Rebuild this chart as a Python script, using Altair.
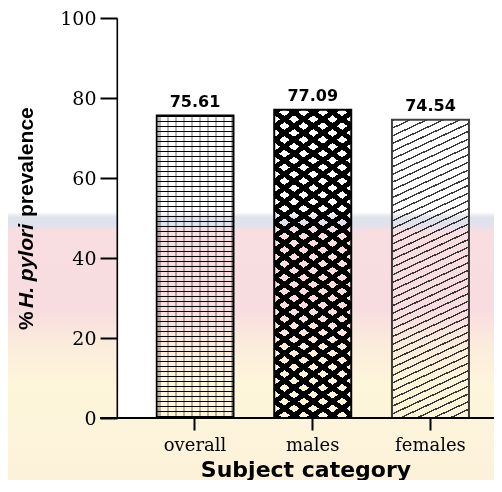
import math
import altair as alt
import pandas as pd

# ---- data ----
categories = ["overall", "males", "females"]
values = [75.61, 77.09, 74.54]
y_ticks = [0, 20, 40, 60, 80, 100]

df = pd.DataFrame({"category": categories, "value": values})
one = pd.DataFrame({"k": [0]})

# ---- layout ----
W, H = 377, 400
PAD_L, PAD_T, PAD_B = 109, 10, 62
P_IN, P_OUT, ALIGN = 0.346, 0.274, 0.612
step = W / (len(categories) - P_IN + 2 * P_OUT)
bw = step * (1 - P_IN)


def bar_h(cat):
    return values[categories.index(cat)] / 100 * H


def stripe_stops(L, period, dark, c_dark, c_light, phase=0.0):
    stops = []
    pos = -phase
    while pos < L:
        a = max(pos, 0) / L
        b = min(max(pos + dark, 0), L) / L
        c = min(pos + period, L) / L
        stops += [(c_dark, a), (c_dark, b), (c_light, b), (c_light, c)]
        pos += period
    return [alt.GradientStop(color=c, offset=round(o, 5)) for c, o in stops]


def diag_grad(w, h, ang_deg, period, dark, c_dark, c_light, up=True):
    a = math.radians(ang_deg)
    A, B = w * math.sin(a), h * math.cos(a)
    k = (A + B) / (A * A + B * B)
    L = A + B
    st = stripe_stops(L, period, dark, c_dark, c_light)
    if up:
        return alt.LinearGradient(gradient="linear", stops=st, x1=0, y1=0, x2=k * A, y2=k * B)
    return alt.LinearGradient(gradient="linear", stops=st, x1=0, y1=1, x2=k * A, y2=1 - k * B)


def horiz_grad(h, period, dark, c_dark, c_light):
    return alt.LinearGradient(gradient="linear", stops=stripe_stops(h, period, dark, c_dark, c_light),
                              x1=0, y1=0, x2=0, y2=1)


x_enc = alt.X(
    "category:N",
    sort=categories,
    scale=alt.Scale(paddingInner=P_IN, paddingOuter=P_OUT, align=ALIGN),
    axis=alt.Axis(
        title="Subject category",
        labelAngle=0,
        domain=False,
        ticks=True,
        tickSize=12,
        tickWidth=2,
        tickColor="black",
        labelFont="DejaVu Serif",
        labelFontSize=18,
        labelColor="black",
        labelPadding=6,
        titleFont="DejaVu Sans",
        titleFontSize=22,
        titleFontWeight="bold",
        titleColor="black",
        titleBaseline="alphabetic",
        titleY=58,
    ),
)
y_enc = alt.Y(
    "value:Q",
    scale=alt.Scale(domain=[0, 100], nice=False),
    axis=alt.Axis(
        title=None,
        values=y_ticks,
        grid=False,
        domainColor="black",
        domainWidth=2,
        tickSize=17,
        tickWidth=2,
        tickColor="black",
        labelFont="DejaVu Serif",
        labelFontSize=19,
        labelColor="black",
        labelPadding=4,
    ),
)

base = alt.Chart(df).encode(x=x_enc, y=y_enc)

# overall: brick-like courses
g_overall = horiz_grad(bar_h("overall"), 5.0, 1.6, "black", "white")
overall = base.transform_filter(alt.datum.category == "overall").mark_bar(
    fill=g_overall, stroke="black", strokeWidth=2
)
g_joint = alt.LinearGradient(
    gradient="linear",
    stops=stripe_stops(bw, 8.0, 1.5, "rgba(0,0,0,0.28)", "rgba(0,0,0,0)", phase=-3),
    x1=0, y1=0, x2=1, y2=0,
)
overall_j = base.transform_filter(alt.datum.category == "overall").mark_bar(fill=g_joint)

# males: crosshatch leaving white diamonds
hm = bar_h("males")
g_m1 = diag_grad(bw, hm, 35.6, 11.2, 5.0, "black", "white", up=True)
g_m2 = diag_grad(bw, hm, 35.6, 11.2, 5.0, "black", "rgba(255,255,255,0)", up=False)
males1 = base.transform_filter(alt.datum.category == "males").mark_bar(fill=g_m1)
males2 = base.transform_filter(alt.datum.category == "males").mark_bar(
    fill=g_m2, stroke="black", strokeWidth=2
)

# females: diagonal hatch
g_f = diag_grad(bw, bar_h("females"), 25, 7.0, 1.4, "#3a3a3a", "white", up=True)
females = base.transform_filter(alt.datum.category == "females").mark_bar(
    fill=g_f, stroke="#404040", strokeWidth=2
)

labels = base.mark_text(
    dy=-9, baseline="alphabetic", font="DejaVu Sans", fontWeight="bold", fontSize=16, color="black"
).encode(text=alt.Text("value:Q", format=".2f"))

baseline = alt.Chart(one).mark_rule(color="black", strokeWidth=2).encode(
    y=alt.datum(0), x=alt.value(-17), x2=alt.value(W)
)

# y title with italic species name
tfont = "Liberation Sans"
t1 = alt.Chart(one).mark_text(text="%", angle=270, align="left", baseline="alphabetic",
                              font=tfont, fontWeight="bold", fontSize=21, color="black").encode(
    x=alt.value(-84), y=alt.value(312))
t2 = alt.Chart(one).mark_text(text="H. pylori", angle=270, align="left", baseline="alphabetic",
                              font=tfont, fontWeight="bold", fontStyle="italic", fontSize=21,
                              color="black").encode(x=alt.value(-84), y=alt.value(290))
t3 = alt.Chart(one).mark_text(text="prevalence", angle=270, align="left", baseline="alphabetic",
                              font=tfont, fontWeight="bold", fontSize=21, color="black").encode(
    x=alt.value(-84), y=alt.value(199))

# background watermark tint (multiplied over everything)
TOT = PAD_T + H + PAD_B


def t(py):
    return round((py - 8) / TOT, 4)


wm = alt.LinearGradient(
    gradient="linear",
    stops=[
        alt.GradientStop(color="#ffffff", offset=0),
        alt.GradientStop(color="#ffffff", offset=t(212)),
        alt.GradientStop(color="#e0e3ec", offset=t(217)),
        alt.GradientStop(color="#dfe2ec", offset=t(225)),
        alt.GradientStop(color="#f8dde1", offset=t(231)),
        alt.GradientStop(color="#f8dde0", offset=t(310)),
        alt.GradientStop(color="#fbecdc", offset=t(345)),
        alt.GradientStop(color="#fdf6da", offset=t(385)),
        alt.GradientStop(color="#fcf2da", offset=1),
    ],
    x1=0, y1=0, x2=0, y2=1,
)
overlay = alt.Chart(one).mark_rect(fill=wm, blend="multiply").encode(
    x=alt.value(-PAD_L), x2=alt.value(W), y=alt.value(-PAD_T), y2=alt.value(H + PAD_B)
)
white_gap = alt.Chart(one).mark_rect(fill="white").encode(
    x=alt.value(1.2), x2=alt.value(38.6), y=alt.value(-PAD_T), y2=alt.value(398.8)
)

chart = alt.layer(
    overall, overall_j, males1, males2, females, labels, baseline, t1, t2, t3, overlay, white_gap
).properties(
    width=W,
    height=H,
    autosize=alt.AutoSizeParams(type="none"),
    padding={"left": PAD_L, "top": PAD_T, "right": 0, "bottom": PAD_B},
).configure_view(strokeWidth=0)

chart.save("out.html", embed_options={"renderer": "svg", "actions": False})
